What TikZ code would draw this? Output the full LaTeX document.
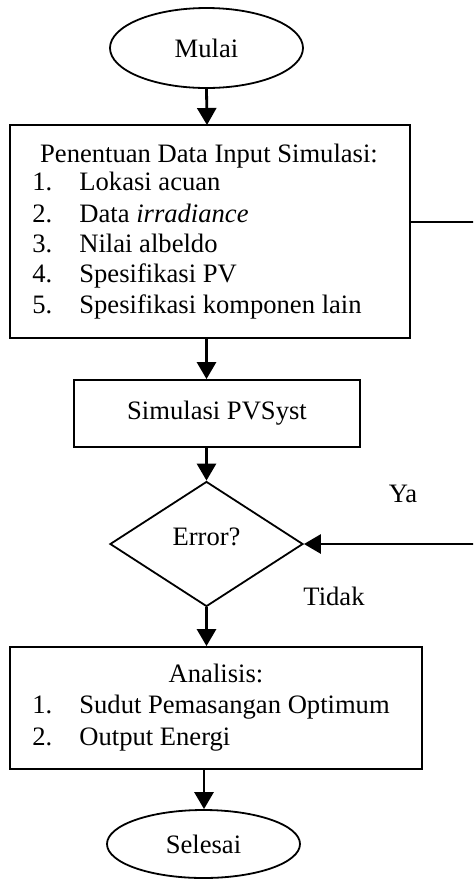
\documentclass[tikz,border=0pt]{standalone}
\usepackage{fontspec}
\setmainfont{Liberation Serif}
\usetikzlibrary{shapes.geometric,arrows.meta}
\begin{document}
\begin{tikzpicture}[x=0.5pt,y=-0.5pt,
  font=\fontsize{13.3pt}{15pt}\selectfont,
  box/.style={draw,line width=0.9pt,inner sep=0pt},
  term/.style={draw,ellipse,line width=0.9pt,inner sep=0pt},
  decide/.style={draw,diamond,line width=0.9pt,inner sep=0pt},
  txt/.style={inner sep=0pt,anchor=base west},
  flow/.style={line width=1.4pt,-{Triangle[length=8.5pt,width=9.5pt]}},
  link/.style={line width=1.1pt}]
\useasboundingbox (0,0) rectangle (473,880);
\clip (0,0) rectangle (473,880);

% start
\node[term,minimum width=96.5pt,minimum height=40pt] (mulai) at (206.5,48) {Mulai};

% input data block
\node[box,minimum width=200pt,minimum height=106.5pt] (input) at (210,231.5) {};
\node[inner sep=0pt,anchor=base] (inhead) at (209,162) {Penentuan Data Input Simulasi:};
\node[txt] (n1) at (32,190) {1.};
\node[txt] (i1) at (79,190) {Lokasi acuan};
\node[txt] (n2) at (32,222) {2.};
\node[txt] (i2) at (79,222) {Data \textit{irradiance}};
\node[txt] (n3) at (32,252) {3.};
\node[txt] (i3) at (79,252) {Nilai albeldo};
\node[txt] (n4) at (32,282) {4.};
\node[txt] (i4) at (79,282) {Spesifikasi PV};
\node[txt] (n5) at (32,313) {5.};
\node[txt] (i5) at (79,313) {Spesifikasi komponen lain};

% simulation
\node[box,minimum width=143pt,minimum height=33.5pt] (sim) at (217,413.5) {Simulasi PVSyst};

% decision
\node[decide,minimum width=96.5pt,minimum height=62.5pt] (err) at (206.5,544) {};
\node[inner sep=0pt] (errtxt) at (206.5,537) {Error?};
\node[inner sep=0pt] (ya) at (403,494) {Ya};
\node[inner sep=0pt] (tidak) at (334,596) {Tidak};

% analysis block
\node[box,minimum width=206pt,minimum height=61pt] (ana) at (216,708) {};
\node[inner sep=0pt,anchor=base] (anahead) at (216,682) {Analisis:};
\node[txt] (m1) at (32,713) {1.};
\node[txt] (j1) at (79,713) {Sudut Pemasangan Optimum};
\node[txt] (m2) at (32,745) {2.};
\node[txt] (j2) at (79,745) {Output Energi};

% end
\node[term,minimum width=96.5pt,minimum height=34pt] (selesai) at (203.5,844) {Selesai};

% connectors
\coordinate (inTop) at (207,125);
\draw[flow] (mulai.south) -- (inTop);
\coordinate (inBot) at (206.5,338);
\draw[flow] (inBot) -- (inBot |- sim.north);
\draw[flow] (err.north |- sim.south) -- (err.north);
\draw[flow] (err.south) -- (err.south |- ana.north);
\coordinate (anaBot) at (204,769);
\draw[flow] (anaBot) -- (anaBot |- selesai.north);

% loop back between the input block and the decision
\coordinate (inR) at (410,222);
\coordinate (farTop) at (490,222);
\coordinate (farBot) at (490,544);
\draw[link] (inR) -- (farTop) -- (farBot);
\draw[flow] (farBot) -- (err.east);
\end{tikzpicture}
\end{document}
